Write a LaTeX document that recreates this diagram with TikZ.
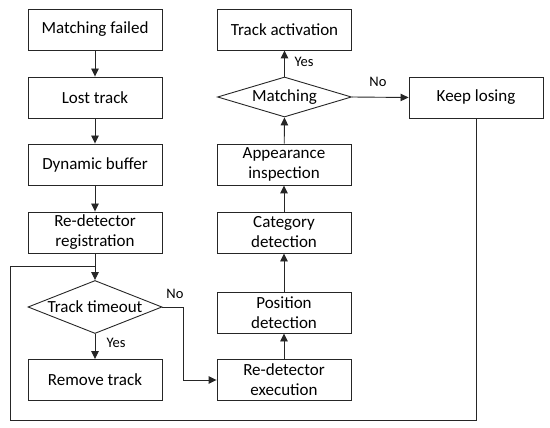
\documentclass[tikz,border=0pt]{standalone}
\usepackage{fontspec}
\setmainfont{Carlito}
\usetikzlibrary{shapes.geometric,arrows.meta}
\begin{document}
\begin{tikzpicture}[x=1pt,y=-1pt,
  box/.style={draw=black!85,line width=0.9pt,minimum width=134pt,minimum height=41pt,inner sep=0pt,align=center,font=\fontsize{17}{20}\selectfont},
  dia/.style={draw=black!85,line width=0.9pt,diamond,inner sep=0pt,minimum width=134pt,minimum height=#1},
  dtext/.style={font=\fontsize{17}{20}\selectfont},
  lab/.style={font=\fontsize{14.5}{17}\selectfont,inner sep=0pt},
  conn/.style={line width=0.9pt,draw=black!85},
  arr/.style={conn,-{Triangle[length=8pt,width=7.5pt]}}]
\useasboundingbox (0,0) rectangle (550,428);
% left column
\node[box] (mf) at (95,29.5) {Matching failed};
\node[box] (lt) at (95,97.5) {Lost track};
\node[box] (db) at (95,164.5) {Dynamic buffer};
\node[box] (rr) at (95,232.5) {Re-detector\\registration};
\node[dia=53pt,label={[dtext]center:Track timeout}] (tt) at (95,307) {};
\node[box] (rt) at (95,380) {Remove track};
% right column
\node[box] (re) at (284,380) {Re-detector\\execution};
\node[box] (pd) at (284,312.5) {Position\\detection};
\node[box] (cd) at (284,232.5) {Category\\detection};
\node[box] (ai) at (284,164.5) {Appearance\\inspection};
\node[dia=40pt,label={[dtext]center:Matching}] (m) at (284.5,97) {};
\node[box] (ta) at (284.5,29.5) {Track activation};
\node[box] (kl) at (476,97.5) {Keep losing};
% coordinates
\coordinate (j) at (95,266);
\coordinate (c1) at (10,420);
\coordinate (c2) at (183,307);
% connectors
\draw[arr] (mf) -- (lt);
\draw[arr] (lt) -- (db);
\draw[arr] (db) -- (rr);
\draw[arr] (rr) -- (tt.north);
\draw[conn] (kl.south) |- (c1) |- (j);
\draw[arr] (tt.south) -- (rt);
\draw[arr] (tt.east) -- (c2) |- (re.west);
\draw[arr] (re) -- (pd);
\draw[arr] (pd) -- (cd);
\draw[arr] (cd) -- (ai);
\draw[arr] (ai) -- (m.south);
\draw[arr] (m.north) -- (ta);
\draw[arr] (m.east) -- (kl.west);
% labels
\node[lab] (y1) at (116,343) {Yes};
\node[lab] (n1) at (175,294) {No};
\node[lab] (y2) at (304,62) {Yes};
\node[lab] (n2) at (378,82) {No};
\end{tikzpicture}
\end{document}
